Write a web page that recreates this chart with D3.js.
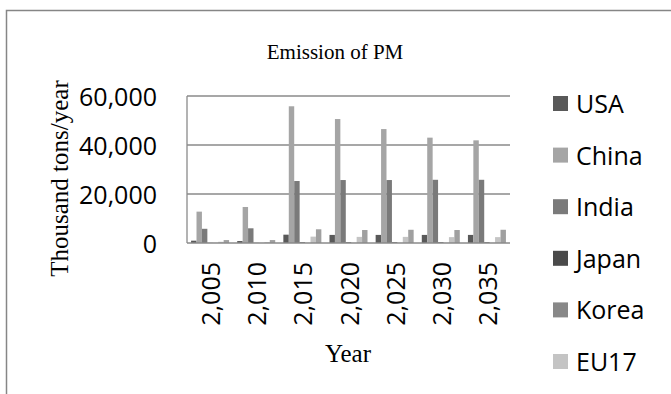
<!DOCTYPE html>
<html>
<head>
<meta charset="utf-8">
<script src="https://cdn.jsdelivr.net/npm/d3@7"></script>
<style>
  html, body { margin: 0; padding: 0; background: #fff; }
  svg { display: block; }
</style>
</head>
<body>
<svg id="chart" width="671" height="394"></svg>
<script>
// Emission of particulate matter by region, thousand tons per year
const years = [2005, 2010, 2015, 2020, 2025, 2030, 2035];
const seriesNames = ["USA", "China", "India", "Japan", "Korea", "EU17", "Others"];
const seriesColors = ["#595959", "#a5a5a5", "#7a7a7a", "#4a4a4a", "#888888", "#c4c4c4", "#a0a0a0"];

const usa    = [950, 800, 3400, 3300, 3300, 3300, 3300];
const china  = [12800, 14700, 55800, 50600, 46500, 43000, 41900];
const india  = [5800, 6000, 25300, 25700, 25700, 25800, 25800];
const japan  = [60, 60, 300, 300, 300, 300, 300];
const korea  = [40, 40, 60, 60, 60, 60, 60];
const eu17   = [500, 400, 2600, 2500, 2500, 2400, 2400];
const others = [1200, 1200, 5600, 5300, 5400, 5300, 5400];

const yTicks = [0, 20000, 40000, 60000];

const seriesValues = [usa, china, india, japan, korea, eu17, others];

const svg = d3.select("#chart");
const W = 671, H = 394;
const plot = { left: 187, right: 510, top: 96, bottom: 243 };

// outer chart border (runs past the page edge on right and bottom)
svg.append("rect")
  .attr("x", 6.5).attr("y", 10.5)
  .attr("width", W + 20).attr("height", H + 20)
  .attr("fill", "#fff")
  .attr("stroke", "#868686").attr("stroke-width", 1.5);

const x0 = d3.scaleBand().domain(years).range([plot.left, plot.right]).paddingInner(0).paddingOuter(0);
const cat = x0.bandwidth();
const gap = cat * 1.5 / (seriesNames.length + 1.5);
const x1 = d3.scaleBand().domain(seriesNames).range([gap / 2, cat - gap / 2]).padding(0);
const y = d3.scaleLinear().domain([0, 60000]).range([plot.bottom, plot.top]);

// gridlines
svg.append("g")
  .selectAll("line")
  .data(yTicks.filter(t => t > 0))
  .join("line")
  .attr("x1", plot.left).attr("x2", plot.right)
  .attr("y1", d => y(d)).attr("y2", d => y(d))
  .attr("stroke", "#8a8a8a").attr("stroke-width", 1.3);

// bars
const groups = svg.append("g")
  .selectAll("g")
  .data(years)
  .join("g")
  .attr("transform", d => `translate(${x0(d)},0)`);

groups.selectAll("rect")
  .data((yr, i) => seriesNames.map((s, k) => ({ s, k, v: seriesValues[k][i] })))
  .join("rect")
  .attr("x", d => x1(d.s))
  .attr("width", x1.bandwidth())
  .attr("y", d => y(d.v))
  .attr("height", d => y(0) - y(d.v))
  .attr("fill", d => seriesColors[d.k]);

// axis lines
svg.append("line")
  .attr("x1", plot.left).attr("x2", plot.left)
  .attr("y1", plot.top).attr("y2", plot.bottom)
  .attr("stroke", "#8a8a8a").attr("stroke-width", 1.3);
svg.append("line")
  .attr("x1", plot.left).attr("x2", plot.right)
  .attr("y1", plot.bottom).attr("y2", plot.bottom)
  .attr("stroke", "#8a8a8a").attr("stroke-width", 1.5);

const fmt = d3.format(",");
const sans = "'Open Sans', 'Noto Sans', sans-serif";
const serif = "'Liberation Serif', 'Times New Roman', serif";

// y axis
const yAxis = d3.axisLeft(y).tickValues(yTicks).tickFormat(fmt).tickSize(0).tickPadding(0);
const yg = svg.append("g").attr("transform", `translate(157,0)`).call(yAxis);
yg.select(".domain").remove();
yg.selectAll("text")
  .attr("font-family", sans).attr("font-size", 25).attr("fill", "#000")
  .attr("dy", "0.36em");

// x axis, rotated labels
const xAxis = d3.axisBottom(x0).tickFormat(fmt).tickSize(0);
const xg = svg.append("g").attr("transform", `translate(0,${plot.bottom})`).call(xAxis);
xg.select(".domain").remove();
xg.selectAll("text")
  .attr("font-family", sans).attr("font-size", 25).attr("fill", "#000")
  .attr("text-anchor", "end")
  .attr("transform", "rotate(-90)")
  .attr("x", -19).attr("y", 1).attr("dy", "0.36em");

// title and axis titles
svg.append("text")
  .attr("x", 335).attr("y", 59)
  .attr("text-anchor", "middle")
  .attr("font-family", serif).attr("font-size", 21).attr("fill", "#000")
  .text("Emission of PM");

svg.append("text")
  .attr("transform", `translate(68,${(plot.top + plot.bottom) / 2 + 9}) rotate(-90)`)
  .attr("text-anchor", "middle")
  .attr("font-family", serif).attr("font-size", 25).attr("fill", "#000")
  .text("Thousand tons/year");

svg.append("text")
  .attr("x", 348).attr("y", 362)
  .attr("text-anchor", "middle")
  .attr("font-family", serif).attr("font-size", 25).attr("fill", "#000")
  .text("Year");

// legend: entries that fit inside the chart area
const legendTop = 104, legendStep = 51.6;
const legendNames = seriesNames.filter((d, i) => legendTop + i * legendStep < H);
const legend = svg.append("g")
  .selectAll("g")
  .data(legendNames)
  .join("g")
  .attr("transform", (d, i) => `translate(553,${legendTop + i * legendStep})`);
legend.append("rect")
  .attr("x", 0).attr("y", -8).attr("width", 15).attr("height", 15)
  .attr("fill", (d, i) => seriesColors[i]);
legend.append("text")
  .attr("x", 23).attr("y", 0).attr("dy", "0.36em")
  .attr("font-family", sans).attr("font-size", 25).attr("fill", "#000")
  .text(d => d);
</script>
</body>
</html>
